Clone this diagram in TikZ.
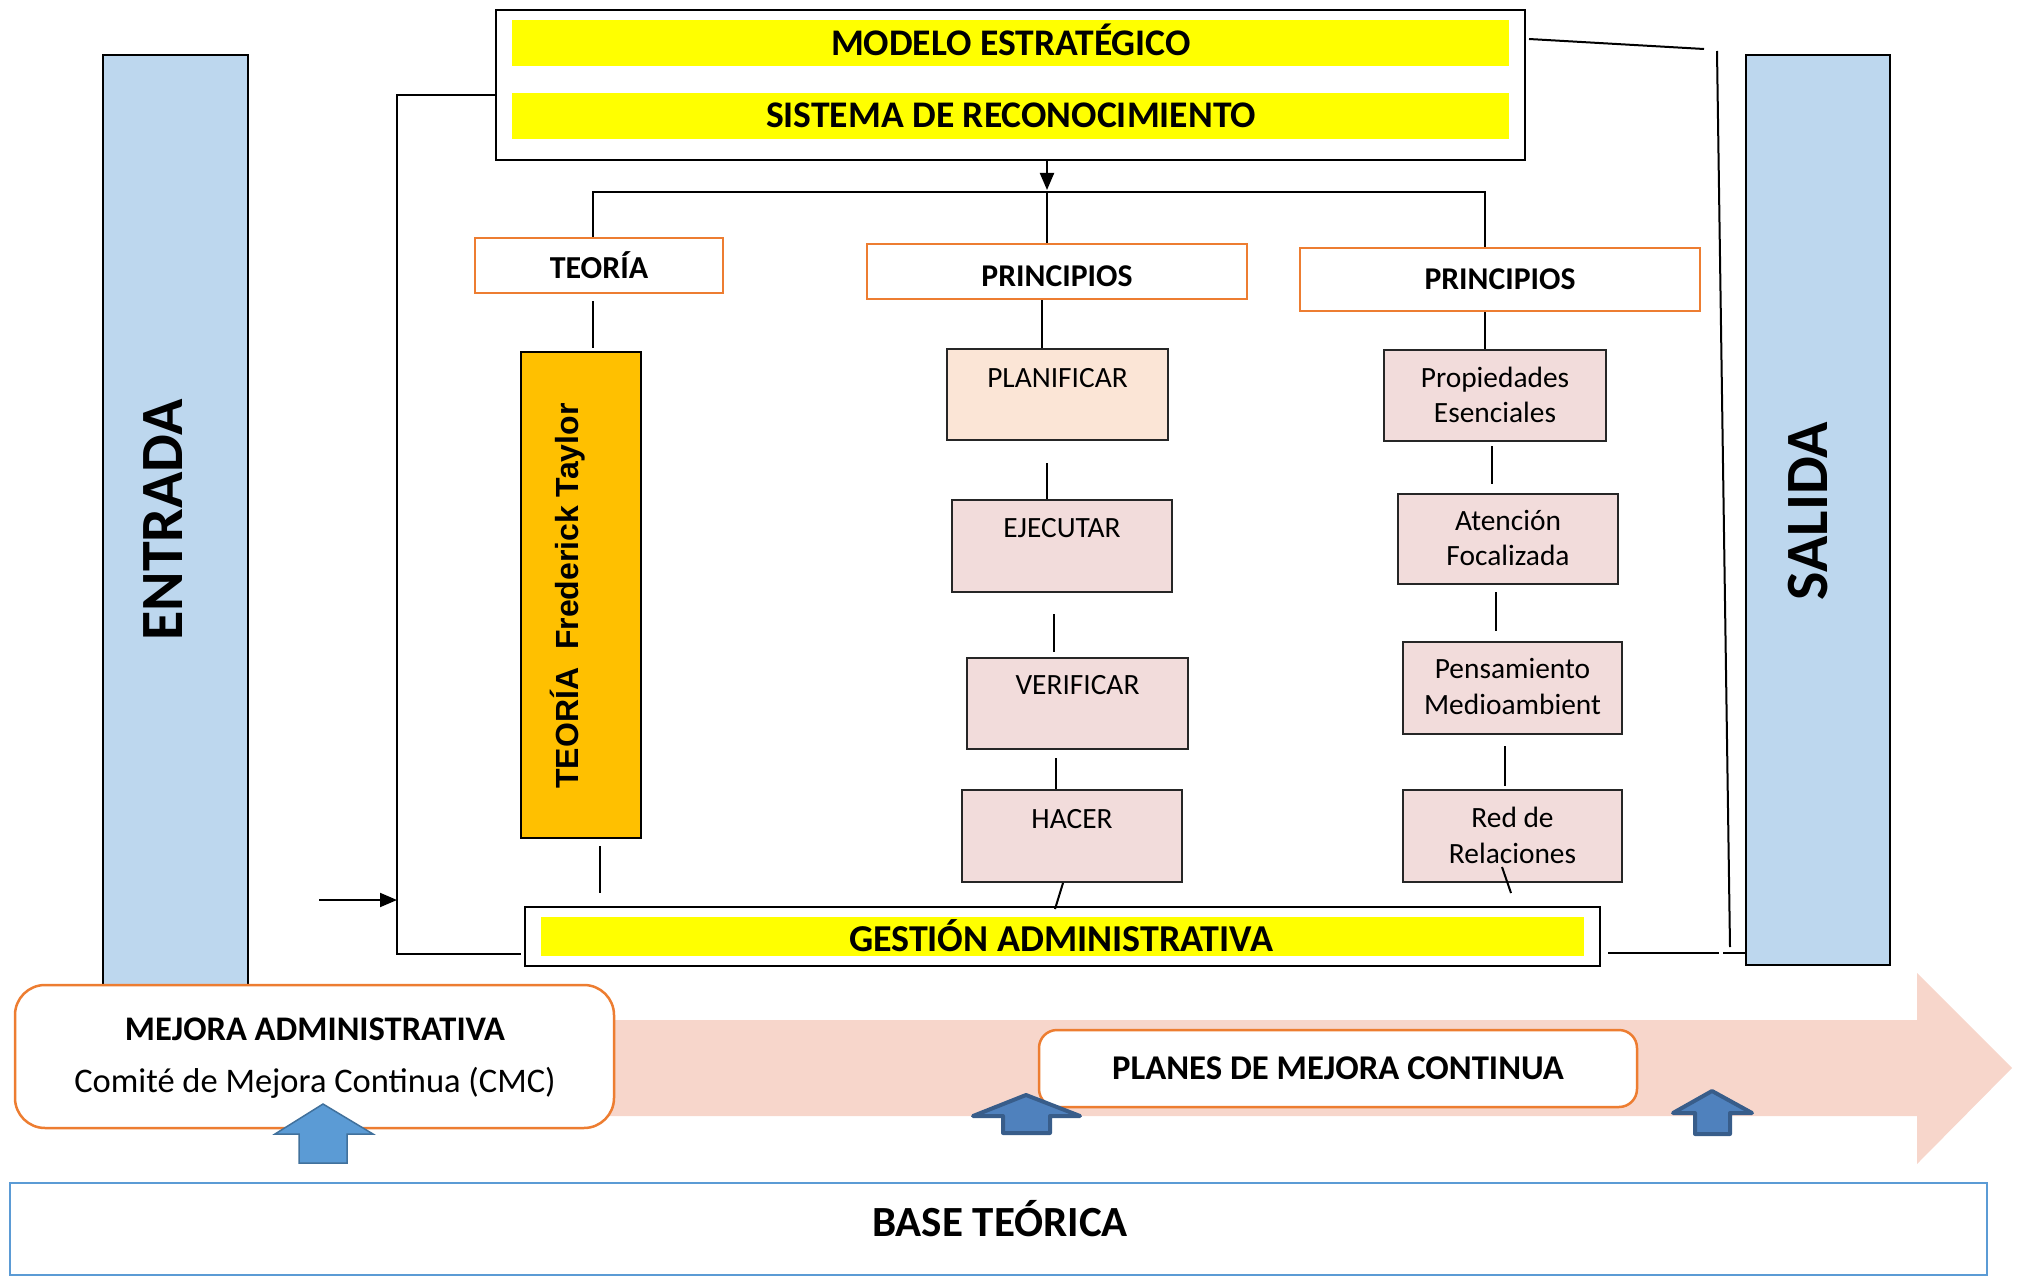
\documentclass[tikz,border=0pt]{standalone}
\usepackage{fontspec}
\setmainfont{Carlito}
\newfontfamily\arialf{Liberation Sans}
\usetikzlibrary{arrows.meta}
\definecolor{lblue}{HTML}{BDD7EE}
\definecolor{ybar}{HTML}{FFFF00}
\definecolor{orangeb}{HTML}{ED7D31}
\definecolor{gold}{HTML}{FFC000}
\definecolor{peach}{HTML}{FBE5D6}
\definecolor{rosy}{HTML}{F2DCDB}
\definecolor{pinkarr}{HTML}{F7D6CB}
\definecolor{bluea}{HTML}{5B9BD5}
\definecolor{blueab}{HTML}{41719C}
\definecolor{blueb}{HTML}{4F81BD}
\definecolor{bluebb}{HTML}{385D8A}
\newcommand\fsz[2]{\fontsize{#1}{#2}\selectfont}
\tikzset{
  conn/.style={line width=2pt, draw=black},
  arr/.style={conn, -{Triangle[length=17pt,width=14pt]}},
  rbox/.style={draw=black, line width=2pt, inner sep=0pt},
  pbox/.style={draw=black!85, line width=2pt, inner sep=0pt, minimum width=221pt, minimum height=91pt},
  obox/.style={draw=orangeb, line width=2.5pt, fill=white, inner sep=0pt},
  yfill/.style={fill=ybar, inner sep=0pt},
  txt/.style={inner sep=0pt},
  pt29/.style={txt, anchor=base, font=\fsz{29.4}{35}},
}
\begin{document}
\begin{tikzpicture}[x=1pt,y=-1pt]
\useasboundingbox (0,0) rectangle (2022,1276);

% big pink arrow
\fill[pinkarr] (300,1020) -- (1917,1020) -- (1917,973) -- (2012,1068) -- (1917,1164) -- (1917,1116) -- (300,1116) -- cycle;

% ENTRADA / SALIDA
\node[rbox, fill=lblue, minimum width=145pt, minimum height=931pt] (entrada) at (175.5,520.5) {};
\node[txt, rotate=90, anchor=base, font=\fsz{60}{62}\bfseries] (entradaT) at (182,520) {ENTRADA};
\node[rbox, fill=lblue, minimum width=144pt, minimum height=910pt] (salida) at (1818,510) {};
\node[txt, rotate=90, anchor=base, font=\fsz{60}{62}\bfseries] (salidaT) at (1827,511) {SALIDA};

% top box
\node[rbox, fill=white, minimum width=1029pt, minimum height=150pt] (top) at (1010.5,85) {};
\node[yfill, minimum width=997pt, minimum height=46pt] (modelo) at (1010.5,43) {};
\node[txt, anchor=base, font=\fsz{37.6}{42}\bfseries] (modeloT) at (1011,56) {MODELO ESTRATÉGICO};
\node[yfill, minimum width=997pt, minimum height=46pt] (sist) at (1010.5,116) {};
\node[txt, anchor=base, font=\fsz{37.6}{42}\bfseries] (sistT) at (1011,128) {SISTEMA DE RECONOCIMIENTO};

% gestion box
\node[rbox, fill=white, minimum width=1075pt, minimum height=59pt] (gest) at (1062.5,936.5) {};
\node[yfill, minimum width=1043pt, minimum height=39pt] (gesty) at (1062.5,936.5) {};
\node[txt, anchor=base, font=\fsz{38}{42}\bfseries] (gestT) at (1061,951) {GESTIÓN ADMINISTRATIVA};

% headers
\node[obox, minimum width=248pt, minimum height=55pt] (teoria) at (599,265.5) {};
\node[txt, anchor=base, font=\fsz{32}{36}\bfseries] (teoriaT) at (599,279) {TEORÍA};
\node[obox, minimum width=380pt, minimum height=55pt] (prin1) at (1057,271.5) {};
\node[txt, anchor=base, font=\fsz{31.7}{36}\bfseries] (prin1T) at (1057,286.5) {PRINCIPIOS};
\node[obox, minimum width=400pt, minimum height=63pt] (prin2) at (1500,279.5) {};
\node[txt, anchor=base, font=\fsz{31.7}{36}\bfseries] (prin2T) at (1500,289) {PRINCIPIOS};

% Taylor
\node[rbox, fill=gold, minimum width=120pt, minimum height=486pt] (taylor) at (581,595) {};
\node[txt, rotate=90, anchor=base, font=\arialf\fsz{32}{36}\bfseries] (taylorT) at (578.5,596) {TEORÍA\ \ Frederick Taylor};

% PDCA column
\node[pbox, fill=peach] (plan) at (1057.5,394.5) {};
\node[pt29] (planT) at ([yshift=-39pt]plan.north) {PLANIFICAR};
\node[pbox, fill=rosy, minimum width=220pt, minimum height=92pt] (ejec) at (1062,546) {};
\node[pt29] (ejecT) at ([yshift=-38pt]ejec.north) {EJECUTAR};
\node[pbox, fill=rosy] (verif) at (1077.5,703.5) {};
\node[pt29] (verifT) at ([yshift=-37pt]verif.north) {VERIFICAR};
\node[pbox, fill=rosy, minimum width=220pt, minimum height=92pt] (hacer) at (1072,836) {};
\node[pt29] (hacerT) at ([yshift=-39pt]hacer.north) {HACER};

% right column
\node[pbox, fill=rosy, minimum width=222pt] (prop) at (1495,395.5) {};
\node[pt29] (propT1) at ([yshift=-38pt]prop.north) {Propiedades};
\node[pt29] (propT2) at ([yshift=-73pt]prop.north) {Esenciales};
\node[pbox, fill=rosy, minimum width=220pt, minimum height=90pt] (aten) at (1508,539) {};
\node[pt29] (atenT1) at ([yshift=-37pt]aten.north) {Atención};
\node[pt29] (atenT2) at ([yshift=-72pt]aten.north) {Focalizada};
\node[pbox, fill=rosy, minimum width=219pt, minimum height=92pt] (pens) at (1512.5,688) {};
\node[pt29] (pensT1) at ([yshift=-37pt]pens.north) {Pensamiento};
\node[pt29] (pensT2) at ([yshift=-73pt]pens.north) {Medioambient};
\node[pbox, fill=rosy, minimum width=219pt, minimum height=92pt] (red) at (1512.5,836) {};
\node[pt29] (redT1) at ([yshift=-38pt]red.north) {Red de};
\node[pt29] (redT2) at ([yshift=-74pt]red.north) {Relaciones};

% distribution connectors
\coordinate (jc) at (1047,192);
\coordinate (bl) at (593,192);
\coordinate (br) at (1485,192);
\draw[arr] (top.south -| jc) -- ([yshift=2pt]jc);
\draw[conn] (bl |- teoria.north) -- (bl) -- (br) -- (br |- prin2.north);
\draw[conn] (jc) -- (jc |- prin1.north);

% column connectors
\coordinate (tx) at (593,0);
\draw[conn, shorten <=7pt, shorten >=3pt] (teoria.south -| tx) -- (taylor.north -| tx);
\coordinate (tx2) at (600,0);
\draw[conn, shorten <=7pt, shorten >=13pt] (taylor.south -| tx2) -- (gest.north -| tx2);

\coordinate (c1) at (1042,0);
\draw[conn] (prin1.south -| c1) -- (plan.north -| c1);
\coordinate (c2) at (1047,0);
\draw[conn, shorten <=22pt] (plan.south -| c2) -- (ejec.north -| c2);
\coordinate (c3) at (1054,0);
\draw[conn, shorten <=21pt, shorten >=5pt] (ejec.south -| c3) -- (verif.north -| c3);
\coordinate (c4) at (1056,0);
\draw[conn, shorten <=8pt] (verif.south -| c4) -- (hacer.north -| c4);
\coordinate (c5) at (1063,0);
\coordinate (c6) at (1055,0);
\draw[conn] (hacer.south -| c5) -- ([yshift=-3pt]gest.north -| c6);

\coordinate (d1) at (1485,0);
\draw[conn] (prin2.south -| d1) -- (prop.north -| d1);
\coordinate (d2) at (1492,0);
\draw[conn, shorten <=4pt, shorten >=9pt] (prop.south -| d2) -- (aten.north -| d2);
\coordinate (d3) at (1496,0);
\draw[conn, shorten <=7pt, shorten >=10pt] (aten.south -| d3) -- (pens.north -| d3);
\coordinate (d4) at (1505,0);
\draw[conn, shorten <=11pt, shorten >=3pt] (pens.south -| d4) -- (red.north -| d4);
\coordinate (d5) at (1502,0);
\coordinate (d6) at (1511,0);
\draw[conn] ([yshift=16pt]red.south -| d5) -- ([yshift=13pt]gest.north -| d6);

% left feedback loop
\coordinate (lt) at (397,95);
\coordinate (lb) at (397,954);
\draw[conn] (top.west |- lt) -- (lt) -- (lb) -- ([xshift=-3pt]gest.west |- lb);
\coordinate (ain) at (319,900);
\draw[arr] (ain) -- (ain -| lt);

% right loop
\coordinate (r0) at (1529,39);
\coordinate (r1) at (1704,49);
\draw[conn] (r0) -- (r1);
\coordinate (r2) at (1717,51);
\coordinate (r3) at (1730,947);
\draw[conn] (r2) -- (r3);
\coordinate (r4) at (1719,953);
\draw[conn, shorten <=7pt] (gest.east |- r4) -- (r4);
\coordinate (r5) at (1723,953);
\draw[conn] (r5) -- (salida.west |- r5);

% bottom boxes
\node[obox, rounded corners=30pt, minimum width=599pt, minimum height=143pt] (mejora) at (314.5,1056.5) {};
\node[txt, anchor=base, font=\fsz{34.5}{40}\bfseries] (mejoraT1) at (315,1040) {MEJORA ADMINISTRATIVA};
\node[txt, anchor=base, font=\fsz{34.5}{40}] (mejoraT2) at (315,1092) {Comité de Mejora Continua (CMC)};
\node[obox, rounded corners=18pt, minimum width=598pt, minimum height=77pt] (planes) at (1338,1068.5) {};
\node[txt, anchor=base, font=\fsz{34.7}{40}\bfseries] (planesT) at (1338,1079.5) {PLANES DE MEJORA CONTINUA};

% blue arrows
\filldraw[fill=bluea, draw=blueab, line width=1.5pt] (323,1104) -- (373,1134) -- (347,1134) -- (347,1163) -- (299,1163) -- (299,1134) -- (275,1134) -- cycle;
\filldraw[fill=blueb, draw=bluebb, line width=4pt, line join=round] (1026,1095) -- (1080,1116) -- (1050,1116) -- (1050,1133) -- (1003,1133) -- (1003,1116) -- (973,1116) -- cycle;
\filldraw[fill=blueb, draw=bluebb, line width=4pt, line join=round] (1712,1091) -- (1752,1113) -- (1730,1113) -- (1730,1134) -- (1695,1134) -- (1695,1113) -- (1673,1113) -- cycle;

% base box
\node[draw=bluea, line width=2.5pt, fill=white, inner sep=0pt, minimum width=1977pt, minimum height=92pt] (base) at (998.5,1229) {};
\node[txt, anchor=base, font=\fsz{43}{48}\bfseries] (baseT) at (1000,1236) {BASE TEÓRICA};
\end{tikzpicture}
\end{document}
